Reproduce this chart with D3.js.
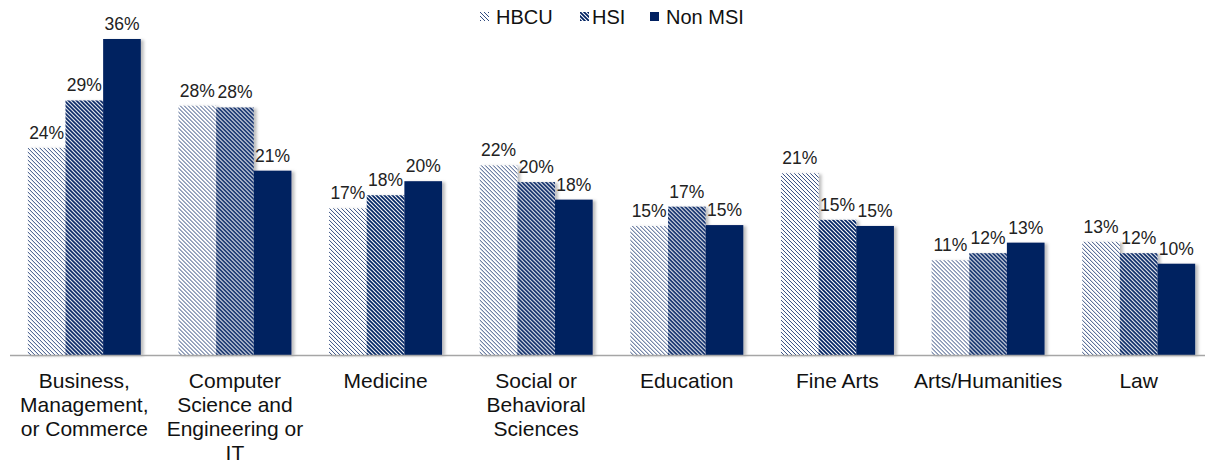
<!DOCTYPE html>
<html>
<head>
<meta charset="utf-8">
<script src="https://cdn.jsdelivr.net/npm/d3@7"></script>
<style>
  body { margin: 0; background: #fff; }
  svg { display: block; font-family: "Liberation Sans", Arial, sans-serif; }
</style>
</head>
<body>
<svg id="chart" width="1205" height="464"></svg>
<script>
var categories = ["Business, Management, or Commerce", "Computer Science and Engineering or IT", "Medicine",
  "Social or Behavioral Sciences", "Education", "Fine Arts", "Arts/Humanities", "Law"];
var catLines = [["Business,", "Management,", "or Commerce"], ["Computer", "Science and", "Engineering or", "IT"],
  ["Medicine"], ["Social or", "Behavioral", "Sciences"], ["Education"], ["Fine Arts"], ["Arts/Humanities"], ["Law"]];
var seriesNames = ["HBCU", "HSI", "Non MSI"];
var hbcu = [23.6, 28.4, 16.7, 21.6, 14.7, 20.7, 10.8, 12.9];
var hsi = [29.0, 28.2, 18.2, 19.7, 16.9, 15.4, 11.6, 11.6];
var nonMsi = [36.0, 21.0, 19.8, 17.7, 14.8, 14.7, 12.8, 10.4];

var svg = d3.select("#chart");
var navy = "#002060";
var baseY = 355;

var defs = svg.append("defs");
function pattern(id, w) {
  var p = defs.append("pattern").attr("id", id).attr("patternUnits", "userSpaceOnUse")
    .attr("width", 4).attr("height", 4);
  p.append("rect").attr("width", 4).attr("height", 4).attr("fill", "#fff");
  p.append("path").attr("d", "M-1,-1 L5,5 M-1,3 L1,5 M3,-1 L5,1")
    .attr("stroke", navy).attr("stroke-width", w);
}
pattern("pLight", 0.8);
pattern("pDark", 1.7);
var shadow = defs.append("filter").attr("id", "shadow").attr("x", "-20%").attr("y", "-10%")
  .attr("width", "150%").attr("height", "130%");
shadow.append("feDropShadow").attr("dx", 3).attr("dy", 1).attr("stdDeviation", 1.5)
  .attr("flood-color", "#000").attr("flood-opacity", 0.25);

var fills = ["url(#pLight)", "url(#pDark)", navy];
var data = [hbcu, hsi, nonMsi];

var x0 = d3.scaleBand().domain(categories).range([9, 1214]).paddingInner(0.25).paddingOuter(0.125);
var x1 = d3.scaleBand().domain(seriesNames).range([0, x0.bandwidth()]);
var y = d3.scaleLinear().domain([0, 36]).range([baseY, 39]);

var groups = svg.selectAll("g.cat").data(categories).enter().append("g")
  .attr("class", "cat")
  .attr("transform", function(d) { return "translate(" + x0(d) + ",0)"; });

groups.each(function(c, ci) {
  var g = d3.select(this);
  seriesNames.forEach(function(s, si) {
    var v = data[si][ci];
    g.append("rect")
      .attr("x", x1(s)).attr("y", y(v))
      .attr("width", x1.bandwidth()).attr("height", baseY - y(v))
      .attr("fill", fills[si])
      .attr("filter", "url(#shadow)");
  });
  seriesNames.forEach(function(s, si) {
    var v = data[si][ci];
    g.append("text")
      .attr("x", x1(s) + x1.bandwidth() / 2).attr("y", y(v) - 9)
      .attr("text-anchor", "middle").attr("font-size", 17.5).attr("fill", "#222")
      .text(Math.round(v) + "%");
  });
});

// axis line
svg.append("line").attr("x1", 10).attr("x2", 1205).attr("y1", baseY + 0.5).attr("y2", baseY + 0.5)
  .attr("stroke", "#a6a6a6").attr("stroke-width", 1.5);

// category labels
categories.forEach(function(c, i) {
  var cx = x0(c) + x0.bandwidth() / 2;
  var t = svg.append("text").attr("text-anchor", "middle").attr("font-size", 21).attr("fill", "#111")
    .attr("x", cx);
  catLines[i].forEach(function(l, li) {
    t.append("tspan").attr("x", cx).attr("y", 388 + li * 24).text(l);
  });
});

// legend
var legX = [480, 580, 650];
seriesNames.forEach(function(s, i) {
  svg.append("rect").attr("x", legX[i]).attr("y", 12).attr("width", 9).attr("height", 9)
    .attr("fill", fills[i]);
  svg.append("text").attr("x", legX[i] + (i === 1 ? 12 : 16)).attr("y", 24).attr("font-size", 20)
    .attr("fill", "#111").text(s);
});
</script>
</body>
</html>
